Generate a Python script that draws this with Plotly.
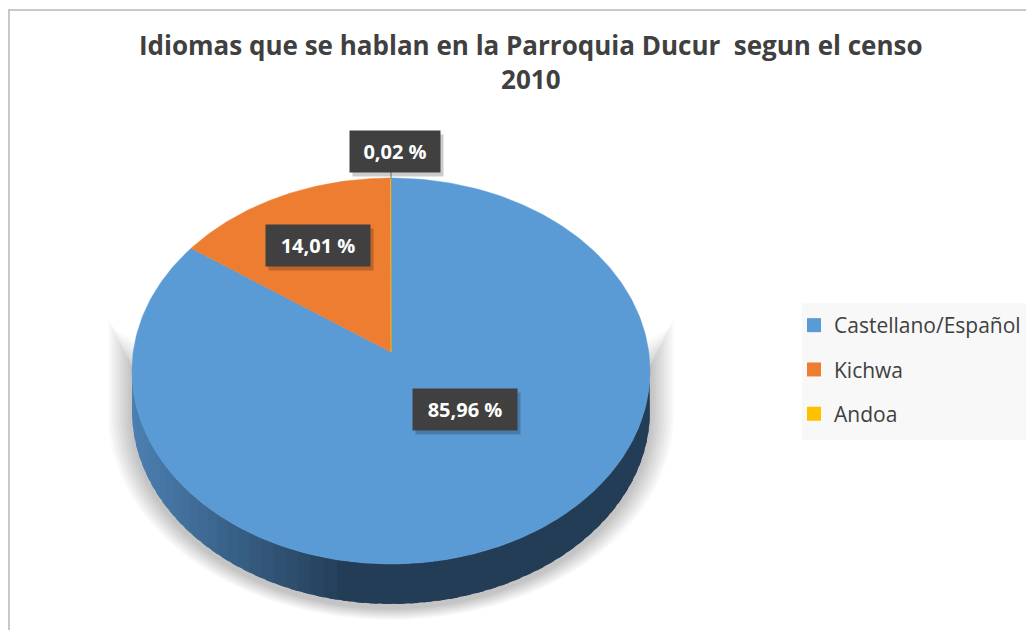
import numpy as np
import plotly.graph_objects as go

# ---- data ----
languages = ["Castellano/Español", "Kichwa", "Andoa"]
percentages = [85.96, 14.01, 0.02]
label_texts = ["85,96 %", "14,01 %", "0,02 %"]
colors = ["#5B9BD5", "#ED7D31", "#FFC000"]
title_text = "Idiomas que se hablan en la Parroquia Ducur  segun el censo<br>2010"

# ---- geometry (pixel space of the page) ----
W, H = 1034, 630
OFF = 8  # page body margin
CX, CY, RX, RY = 391, 371, 259, 193
DEPTH = 40
APEX_DY = -19

fracs = np.array(percentages) / np.sum(percentages)
bounds = np.concatenate([[0], np.cumsum(fracs)]) * 2 * np.pi


def rim(t, dy=0.0):
    return CX + RX * np.sin(t), CY - RY * np.cos(t) + dy


fig = go.Figure()

# soft shadow
n_sh = 12
for k in range(n_sh):
    grow = 24 - 2.0 * k
    t = np.linspace(np.pi / 2, 3 * np.pi / 2, 80)
    xs_top = CX + (RX + grow) * np.sin(t)
    ys_top = CY - 55 - RY * 0.3 * np.cos(t) + 4 * k
    t2 = t[::-1]
    xs_bot = CX + (RX + grow) * np.sin(t2)
    ys_bot = CY - (RY + grow * 0.5) * np.cos(t2) + DEPTH + 4
    fig.add_trace(go.Scatter(
        x=np.concatenate([xs_top, xs_bot]), y=np.concatenate([ys_top, ys_bot]),
        fill="toself", mode="lines", line=dict(width=0),
        fillcolor="rgba(0,0,0,0.02)", showlegend=False, hoverinfo="skip"))


# side wall (front half only) with gradient
def side_color(i, x):
    if i == 0:
        light = np.array([0x4C, 0x80, 0xB2])
        dark = np.array([0x23, 0x3D, 0x56])
        f = np.clip((x - (CX - RX)) / 210.0, 0, 1)
        c = light * (1 - f) + dark * f
        return "rgb(%d,%d,%d)" % tuple(c)
    if i == 1:
        return "#8A4A1D"
    return "#997300"


for i in range(len(percentages)):
    a0 = max(bounds[i], np.pi / 2)
    a1 = min(bounds[i + 1], 3 * np.pi / 2)
    if a1 <= a0:
        continue
    n = 60
    edges = np.linspace(a0, a1, n + 1)
    step = (a1 - a0) / n
    for j in range(n):
        t = np.linspace(edges[j], min(edges[j + 1] + 0.6 * step, a1), 4)
        xt, yt = rim(t)
        xb, yb = rim(t[::-1], DEPTH)
        col = side_color(i, xt.mean())
        fig.add_trace(go.Scatter(
            x=np.concatenate([xt, xb]), y=np.concatenate([yt, yb]),
            fill="toself", mode="lines", line=dict(width=0),
            fillcolor=col, showlegend=False, hoverinfo="skip"))

# top face slices
for i, (name, col) in enumerate(zip(languages, colors)):
    n = max(3, int(400 * fracs[i]))
    t = np.linspace(bounds[i], bounds[i + 1], n)
    xr, yr = rim(t)
    xs = np.concatenate([[CX], xr, [CX]])
    ys = np.concatenate([[CY + APEX_DY], yr, [CY + APEX_DY]])
    fig.add_trace(go.Scatter(
        x=xs, y=ys, fill="toself", mode="lines",
        line=dict(width=0.5, color=col), fillcolor=col,
        showlegend=False, name=name,
        hovertemplate=f"{name}: {label_texts[i]}<extra></extra>"))

# legend entries
for i, (name, col) in enumerate(zip(languages, colors)):
    fig.add_trace(go.Scatter(
        x=[None], y=[None], mode="markers", name=name, legendgroup=name,
        marker=dict(symbol="square", size=14, color=col)))

# data labels
label_pos = [(465, 409), (318, 245), (395, 151)]
label_box_w = [96, 96, 82]
annotations = []
for (lx, ly), txt, bw in zip(label_pos, label_texts, label_box_w):
    # drop shadow box (no text)
    annotations.append(dict(
        x=lx + 3, y=ly + 4, xref="x", yref="y", text="&nbsp;", showarrow=False,
        font=dict(family="Open Sans", size=20, color="rgba(0,0,0,0)"),
        bgcolor="rgba(0,0,0,0.2)", borderpad=4, width=bw, height=33))
    annotations.append(dict(
        x=lx, y=ly, xref="x", yref="y", text=f"<b>{txt}</b>", showarrow=False,
        font=dict(family="Open Sans", size=20, color="white"),
        bgcolor="#404040", borderpad=4, width=bw, height=33))

annotations.append(dict(
    x=531, y=62, xref="x", yref="y", text=f"<b>{title_text}</b>",
    showarrow=False, font=dict(family="Open Sans", size=26, color="#404040")))

shapes = [
    dict(type="rect", xref="x", yref="y", x0=9, x1=1060, y0=10, y1=660,
         line=dict(color="#C8C8C8", width=2), layer="below"),
    dict(type="rect", xref="x", yref="y", x0=802, x1=1031, y0=303, y1=440,
         line=dict(width=0), fillcolor="#F8F8F8", layer="below"),
    dict(type="line", xref="x", yref="y", x0=CX, x1=CX, y0=171, y1=179,
         line=dict(color="#7F7F7F", width=1)),
]

fig.update_layout(
    width=W, height=H, margin=dict(l=0, r=0, t=0, b=0),
    paper_bgcolor="white", plot_bgcolor="white",
    xaxis=dict(range=[OFF, W + OFF], visible=False, fixedrange=True),
    yaxis=dict(range=[H + OFF, OFF], visible=False, fixedrange=True),
    showlegend=True,
    legend=dict(x=(794 - OFF) / W, y=1 - (305 - OFF) / H, xanchor="left", yanchor="top",
                bgcolor="rgba(0,0,0,0)",
                font=dict(family="Open Sans", size=21, color="#404040"),
                tracegroupgap=14, itemclick=False, itemdoubleclick=False),
    annotations=annotations, shapes=shapes,
)

fig.write_html("out.html")
